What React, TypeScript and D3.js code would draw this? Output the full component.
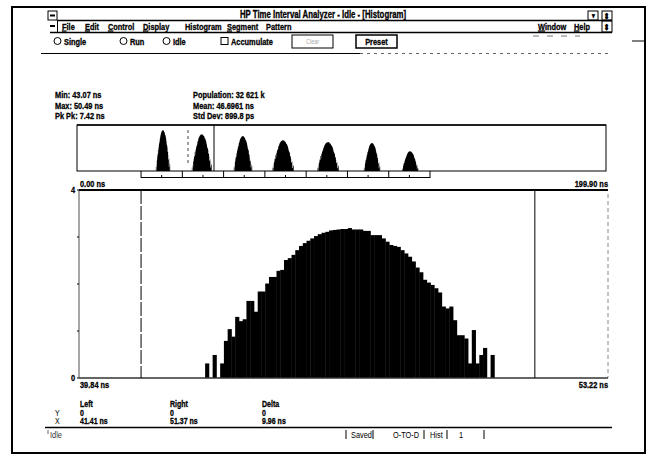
import * as d3 from 'd3'

// histogram counts (thousands) per bin
const binStart = 43.03
const binWidth = 0.095
const counts = [
  0.31, 0, 0.49, 0, 0.31, 0.79, 1.04, 0.88, 1.3, 1.21, 1.25, 1.64, 1.64, 1.41, 1.84, 1.84,
  2.01, 2.15, 2.15, 2.28, 2.3, 2.51, 2.55, 2.62, 2.72, 2.81, 2.87, 2.92, 2.97, 3.02, 3.06,
  3.09, 3.11, 3.14, 3.15, 3.16, 3.17, 3.17, 3.19, 3.16, 3.16, 3.16, 3.13, 3.13, 3.04, 3.04,
  3.04, 2.97, 2.9, 2.83, 2.81, 2.79, 2.72, 2.65, 2.58, 2.48, 2.35, 2.25, 2.09, 2.03, 1.98,
  1.91, 1.82, 1.52, 1.48, 1.52, 1.23, 0.91, 0.91, 0.84, 0.31, 1.02, 0.31, 0.49, 0.64, 0, 0.49,
]
const yTicks = [0, 1, 2, 3, 4]
const yLabels = ['0', '4']
const xDomain = [39.84, 53.22]
const cursorTimes = [41.41, 51.37]

// overview strip
const overviewDomain = [0, 199.9]
const humpCenters = [32.5, 47.2, 62.7, 77.9, 94.9, 111.5, 125.9]
const humpWidths = [5.4, 7.6, 7.0, 8.2, 8.2, 6.2, 6.2]
const humpPeaks = [0.89, 0.8, 0.76, 0.67, 0.63, 0.61, 0.43]
const segmentEdges = [24.2, 39.8, 55.4, 71.0, 86.6, 102.2, 117.8, 133.4]

const statsLeft = ['Min: 43.07 ns', 'Max: 50.49 ns', 'Pk Pk: 7.42 ns']
const statsRight = ['Population: 32 621 k', 'Mean: 46.6961 ns', 'Std Dev: 899.8 ps']
const menuItems = ['File', 'Edit', 'Control', 'Display', 'Histogram', 'Segment', 'Pattern']
const radioItems = ['Single', 'Run', 'Idle']
const markerHeads = ['Left', 'Right', 'Delta']
const markerY = ['0', '0', '0']
const markerX = ['41.41 ns', '51.37 ns', '9.96 ns']
const statusItems = ['Saved', 'O-TO-D', 'Hist', '1']

const font = "'Liberation Sans', Arial, sans-serif"

// narrow bold text, like the condensed screen font of the original
const T = ({ x, y, anchor = 'start', size = 9.5, weight = 700, fill = '#000', ul = false, children }) => {
  const s = String(children)
  return (
    <text
      transform={`translate(${x},${y}) scale(0.78,1)`}
      textAnchor={anchor}
      fontFamily={font}
      fontSize={size}
      fontWeight={weight}
      fill={fill}
      stroke={weight === 700 ? fill : 'none'}
      strokeWidth={0.3}
    >
      {ul ? (
        <>
          <tspan textDecoration="underline">{s[0]}</tspan>
          {s.slice(1)}
        </>
      ) : (
        s
      )}
    </text>
  )
}

const App = () => {
  const W = 649
  const H = 456
  const plot = { left: 79, right: 608, top: 190, bottom: 378 }
  const x = d3.scaleLinear().domain(xDomain).range([plot.left, plot.right])
  const y = d3.scaleLinear().domain([0, 4]).range([plot.bottom, plot.top])

  const ov = { left: 77, right: 606, top: 125, bottom: 171 }
  const ox = d3.scaleLinear().domain(overviewDomain).range([ov.left, ov.right])
  const oy = d3.scaleLinear().domain([0, 1]).range([ov.bottom, ov.top])
  const maxCount = d3.max(counts)

  const humpPath = (k) => {
    const n = counts.length
    const w = humpWidths[k]
    const x0 = humpCenters[k] - w / 2
    const area = d3
      .area()
      .x((d, i) => ox(x0 + (i / n) * w))
      .y0(oy(0))
      .y1((d) => oy((d / maxCount) * humpPeaks[k]))
      .curve(d3.curveStepAfter)
    return area([...counts, 0])
  }

  const menuX = [62, 85, 108, 143, 185, 227, 266]
  const radioX = [54, 120, 163]
  const colX = [80, 170, 262]
  const statusX = [351, 393, 430, 459]
  const statusBars = [346, 373, 424, 447, 484]

  return (
    <svg width={W} height={H} style={{ position: 'absolute', left: 0, top: 0, background: '#fff' }}>
      <rect x={0} y={0} width={W} height={H} fill="#fff" />
      {/* outer frame */}
      <rect x={12} y={7} width={633} height={446} fill="none" stroke="#000" strokeWidth={2} />

      {/* title bar */}
      <rect x={48} y={11} width={9} height={9} fill="none" stroke="#000" strokeWidth={1} />
      <line x1={50} x2={55} y1={15.5} y2={15.5} stroke="#000" strokeWidth={2} />
      <T x={323} y={18} anchor="middle" size={10}>HP Time Interval Analyzer - Idle - [Histogram]</T>
      <line x1={57} x2={612} y1={20.5} y2={20.5} stroke="#000" strokeWidth={1.5} />
      <rect x={588} y={11} width={10} height={9} fill="none" stroke="#000" />
      <T x={593} y={18} anchor="middle" size={7}>▾</T>
      <rect x={602} y={11} width={10} height={9} fill="none" stroke="#000" />
      <T x={607} y={18.5} anchor="middle" size={8}>⇕</T>

      {/* menu bar */}
      <line x1={50} x2={55} y1={26} y2={26} stroke="#000" strokeWidth={2} />
      <line x1={57.5} x2={57.5} y1={21} y2={32} stroke="#000" />
      {menuItems.map((m, i) => (
        <T key={m} x={menuX[i]} y={29.5} ul={m !== 'Histogram' && m !== 'Pattern'}>
          {m}
        </T>
      ))}
      <T x={538} y={29.5} ul>Window</T>
      <T x={574} y={29.5} ul>Help</T>
      <rect x={602} y={21} width={10} height={11} fill="none" stroke="#000" />
      <T x={607} y={29.5} anchor="middle" size={8}>⇕</T>
      <line x1={50} x2={612} y1={32.5} y2={32.5} stroke="#000" strokeWidth={1.5} />

      {/* toolbar */}
      {radioItems.map((l, i) => (
        <g key={l}>
          <circle cx={radioX[i] + 3.5} cy={41} r={3.5} fill="none" stroke="#000" />
          <T x={radioX[i] + 10} y={44.5}>{l}</T>
        </g>
      ))}
      <rect x={221} y={37.5} width={7} height={7} fill="none" stroke="#000" />
      <T x={231} y={44.5}>Accumulate</T>
      <rect x={292} y={35} width={41} height={13} fill="none" stroke="#000" />
      <T x={312.5} y={44} anchor="middle" fill="#aaa" size={7} weight={400}>Clear</T>
      <rect x={356} y={35} width={41} height={13} fill="none" stroke="#000" strokeWidth={1.5} />
      <T x={376.5} y={45} anchor="middle">Preset</T>
      <line x1={632} x2={646} y1={41} y2={41} stroke="#000" />
      <line x1={533} x2={580} y1={36} y2={36} stroke="#777" strokeDasharray="6 8" />
      <line x1={41} x2={360} y1={53.5} y2={53.5} stroke="#000" />
      <line x1={360} x2={612} y1={53.5} y2={53.5} stroke="#666" strokeDasharray="3 4" />

      {/* statistics */}
      {statsLeft.map((s, i) => (
        <T key={s} x={55} y={98 + i * 10.5}>{s}</T>
      ))}
      {statsRight.map((s, i) => (
        <T key={s} x={193} y={98 + i * 10.5}>{s}</T>
      ))}

      {/* overview strip */}
      <rect x={ov.left} y={ov.top} width={ov.right - ov.left} height={ov.bottom - ov.top} fill="none" stroke="#000" />
      <line x1={ov.left} x2={ov.right} y1={ov.top} y2={ov.top} stroke="#000" strokeWidth={1.5} />
      <line x1={214} x2={214} y1={ov.top} y2={ov.bottom} stroke="#000" />
      <line x1={188} x2={188} y1={ov.top + 5} y2={ov.bottom - 5} stroke="#444" strokeDasharray="3 3" />
      {humpCenters.map((c, k) => (
        <path key={k} d={humpPath(k)} fill="#000" />
      ))}
      <line
        x1={ox(segmentEdges[0])}
        x2={ox(segmentEdges[segmentEdges.length - 1])}
        y1={ov.bottom + 6.5}
        y2={ov.bottom + 6.5}
        stroke="#000"
      />
      {segmentEdges.map((e) => (
        <line key={e} x1={ox(e)} x2={ox(e)} y1={ov.bottom} y2={ov.bottom + 7} stroke="#000" />
      ))}
      {segmentEdges.slice(1).map((e, i) => (
        <line
          key={'m' + e}
          x1={ox((e + segmentEdges[i]) / 2)}
          x2={ox((e + segmentEdges[i]) / 2)}
          y1={ov.bottom + 4}
          y2={ov.bottom + 7}
          stroke="#000"
        />
      ))}

      {/* main histogram */}
      <T x={plot.left + 1} y={plot.top - 3}>{ox.domain()[0].toFixed(2) + ' ns'}</T>
      <T x={plot.right} y={plot.top - 3} anchor="end">{ox.domain()[1].toFixed(2) + ' ns'}</T>
      {counts.map((c, i) => {
        const x0 = x(binStart + i * binWidth)
        const x1 = x(binStart + (i + 1) * binWidth)
        return c > 0 ? (
          <rect key={i} x={x0} y={y(c)} width={x1 - x0 + 0.4} height={y(0) - y(c)} fill="#000" />
        ) : null
      })}
      <line x1={plot.left} x2={plot.left} y1={plot.top} y2={plot.bottom} stroke="#888" strokeWidth={1.5} />
      <line x1={plot.right} x2={plot.right} y1={plot.top + 4} y2={plot.bottom} stroke="#888" strokeDasharray="4 3" />
      {yTicks.map((t) => (
        <line key={t} x1={plot.left - 2} x2={plot.left} y1={y(t)} y2={y(t)} stroke="#000" />
      ))}
      {yLabels.map((l) => (
        <T key={l} x={plot.left - 4} y={y(+l) + 3} anchor="end">{l}</T>
      ))}
      <line x1={plot.left} x2={plot.right} y1={plot.top} y2={plot.top} stroke="#000" strokeWidth={2} />
      <line x1={plot.left} x2={plot.right} y1={plot.bottom} y2={plot.bottom} stroke="#333" strokeWidth={1.5} />
      {cursorTimes.map((t, i) => (
        <line
          key={t}
          x1={x(t)}
          x2={x(t)}
          y1={plot.top}
          y2={plot.bottom}
          stroke="#000"
          strokeWidth={1}
          strokeDasharray={i === 0 ? '14 2' : undefined}
        />
      ))}
      <T x={plot.left + 1} y={plot.bottom + 10}>{xDomain[0].toFixed(2) + ' ns'}</T>
      <T x={plot.right} y={plot.bottom + 10} anchor="end">{xDomain[1].toFixed(2) + ' ns'}</T>

      {/* marker readout */}
      {markerHeads.map((h, i) => (
        <T key={h} x={colX[i]} y={407} size={9}>{h}</T>
      ))}
      <T x={55} y={415.5} size={9} weight={400}>Y</T>
      {markerY.map((v, i) => (
        <T key={'y' + i} x={colX[i]} y={415.5} size={9}>{v}</T>
      ))}
      <T x={55} y={424} size={9} weight={400}>X</T>
      {markerX.map((v, i) => (
        <T key={'x' + i} x={colX[i]} y={424} size={9}>{v}</T>
      ))}

      {/* status bar */}
      <line x1={45} x2={612} y1={427.5} y2={427.5} stroke="#000" strokeWidth={1.5} />
      <line x1={48} x2={48} y1={430} y2={434} stroke="#666" />
      <T x={50} y={437.5} weight={400} fill="#333">Idle</T>
      {statusBars.map((b) => (
        <line key={b} x1={b} x2={b} y1={430} y2={439} stroke="#000" />
      ))}
      {statusItems.map((s, i) => (
        <T key={s} x={statusX[i]} y={437.5} weight={400}>{s}</T>
      ))}
    </svg>
  )
}

export default App
